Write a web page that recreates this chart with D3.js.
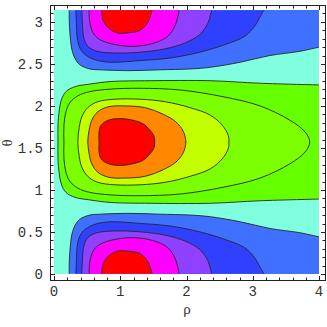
<!DOCTYPE html>
<meta charset="utf-8">
<head>
<title>contour rho theta</title>
<script src="https://cdn.jsdelivr.net/npm/d3@7"></script>
<style>
body { margin: 0; background: #fff; }
.tick-label { font-family: "Liberation Mono", monospace; font-size: 14px; fill: #333; }
.axis-title { font-family: "Liberation Serif", serif; font-size: 15px; fill: #333; }
</style>
</head>
<body>
<svg width="327" height="327"></svg>
<script>
// contour lines, [rho, theta]
// upper lobe (near theta = pi), the lower lobe is its mirror image
var topBlue    = [[0.23,3.14],[0.23,3.02],[0.24,2.87],[0.27,2.67],[0.32,2.56],[0.39,2.49],[0.54,2.44],[0.69,2.43],[1.15,2.42],[1.6,2.43],[2.05,2.44],[2.36,2.46],[2.81,2.52],[3.26,2.6],[3.71,2.65],[4,2.7]];
var topDark    = [[0.33,3.14],[0.34,2.96],[0.35,2.81],[0.39,2.69],[0.47,2.61],[0.62,2.55],[0.85,2.52],[1.3,2.54],[1.75,2.57],[2.2,2.64],[2.58,2.73],[2.88,2.83],[3.03,2.95],[3.11,3.06],[3.17,3.14]];
var topPurple  = [[0.42,3.14],[0.43,2.96],[0.45,2.81],[0.51,2.71],[0.65,2.65],[0.92,2.63],[1.3,2.64],[1.68,2.68],[1.98,2.75],[2.2,2.85],[2.32,2.98],[2.38,3.14]];
var topMagenta = [[0.53,3.14],[0.54,3.0],[0.59,2.87],[0.69,2.79],[0.92,2.73],[1.22,2.71],[1.52,2.75],[1.72,2.83],[1.83,2.96],[1.89,3.14]];
var topRed     = [[0.72,3.14],[0.74,3.02],[0.82,2.93],[0.95,2.87],[1.12,2.87],[1.3,2.9],[1.42,3.0],[1.48,3.14]];

// middle lobe, upper half only (theta >= pi/2), mirrored below
var midGreen  = [[0.06,1.57],[0.06,1.77],[0.08,1.95],[0.11,2.07],[0.18,2.17],[0.32,2.23],[0.54,2.26],[0.85,2.29],[1.45,2.3],[2.36,2.3],[3.11,2.27],[4,2.25]];
var midLime   = [[0.15,1.57],[0.15,1.77],[0.18,1.93],[0.24,2.04],[0.36,2.12],[0.54,2.17],[0.85,2.2],[1.3,2.21],[1.9,2.19],[2.55,2.11],[3.11,2.0],[3.56,1.83],[3.79,1.69],[3.86,1.57]];
var midYellow = [[0.36,1.57],[0.38,1.74],[0.42,1.87],[0.51,1.98],[0.66,2.05],[0.92,2.08],[1.3,2.08],[1.68,2.05],[2.05,1.98],[2.36,1.89],[2.54,1.77],[2.63,1.65],[2.64,1.57]];
var midOrange = [[0.51,1.57],[0.53,1.71],[0.57,1.83],[0.66,1.93],[0.82,1.99],[1.07,2.0],[1.37,1.98],[1.65,1.9],[1.84,1.81],[1.95,1.7],[1.99,1.57]];
var midRed    = [[0.68,1.57],[0.68,1.69],[0.71,1.77],[0.82,1.83],[1.0,1.85],[1.19,1.83],[1.34,1.79],[1.45,1.71],[1.51,1.64],[1.52,1.57]];

var lobeColors = ["#4070ff", "#3040ff", "#9040ff", "#ff00ff", "#ff0000"];
var midColors  = ["#66ff00", "#7cff00", "#c4ff00", "#ff8800", "#ff0000"];
var bgColor = "#80ffdf";

var xTicks = [0, 1, 2, 3, 4];
var yTicks = [0, 0.5, 1, 1.5, 2, 2.5, 3];

var svg = d3.select("svg");
var x = d3.scaleLinear().domain([0, 4]).range([54, 319]);
var y = d3.scaleLinear().domain([0, Math.PI]).range([274, 10]);

var openLine = d3.line().x(function(d){ return x(d[0]); }).y(function(d){ return y(d[1]); }).curve(d3.curveCatmullRom);
var loopLine = d3.line().x(function(d){ return x(d[0]); }).y(function(d){ return y(d[1]); }).curve(d3.curveCatmullRomClosed);

function flip(pts) { return pts.map(function(p){ return [p[0], Math.PI - p[1]]; }); }
function fullMid(half) {
  var low = flip(half).slice(1, -1).reverse();
  return half.concat(low);
}

svg.append("clipPath").attr("id", "plotclip")
  .append("rect").attr("x", x(0)).attr("y", y(Math.PI)).attr("width", x(4) - x(0)).attr("height", y(0) - y(Math.PI));

var g = svg.append("g").attr("clip-path", "url(#plotclip)");
g.append("rect").attr("x", x(0)).attr("y", y(Math.PI)).attr("width", x(4) - x(0)).attr("height", y(0) - y(Math.PI)).attr("fill", bgColor);

var lobes = [topBlue, topDark, topPurple, topMagenta, topRed];

// upper and lower lobes
[false, true].forEach(function(lower) {
  lobes.forEach(function(c, i) {
    var pts = lower ? flip(c) : c;
    var d = openLine(pts);
    if (i == 0) d += "L" + x(4) + "," + y(lower ? 0 : Math.PI);
    d += "Z";
    g.append("path").attr("d", d).attr("fill", lobeColors[i]);
  });
});

// middle lobe
var mids = [midGreen, midLime, midYellow, midOrange, midRed];
var outerMid = midGreen.slice().reverse().concat(flip(midGreen).slice(1));
mids.forEach(function(c, i) {
  if (i == 0) {
    g.append("path").attr("d", openLine(outerMid) + "Z").attr("fill", midColors[i]);
  } else {
    g.append("path").attr("d", loopLine(fullMid(c))).attr("fill", midColors[i]);
  }
});

// contour lines on top
var lines = g.append("g").attr("fill", "none").attr("stroke", "#262626").attr("stroke-width", 0.9);
lobes.forEach(function(c) {
  lines.append("path").attr("d", openLine(c));
  lines.append("path").attr("d", openLine(flip(c)));
});
lines.append("path").attr("d", openLine(outerMid));
mids.slice(1).forEach(function(c) {
  lines.append("path").attr("d", loopLine(fullMid(c)));
});

// frame
var fx0 = 50, fx1 = 325, fy0 = 5, fy1 = 280;
var frame = svg.append("g").attr("stroke", "#222").attr("stroke-width", 1).attr("fill", "none");
frame.append("rect").attr("x", fx0 + 0.5).attr("y", fy0 + 0.5).attr("width", fx1 - fx0).attr("height", fy1 - fy0);

d3.range(0, 4.001, 0.2).forEach(function(v) {
  var major = Math.abs(v - Math.round(v)) < 1e-6;
  var len = major ? 4 : 2.5;
  var px = Math.round(x(v)) + 0.5;
  frame.append("line").attr("x1", px).attr("x2", px).attr("y1", fy1).attr("y2", fy1 - len);
  frame.append("line").attr("x1", px).attr("x2", px).attr("y1", fy0 + 1).attr("y2", fy0 + 1 + len);
});
d3.range(0, 3.1001, 0.1).forEach(function(v) {
  var major = Math.abs(v * 2 - Math.round(v * 2)) < 1e-6;
  var len = major ? 4 : 2.5;
  var py = Math.round(y(v)) + 0.5;
  frame.append("line").attr("x1", fx0 + 1).attr("x2", fx0 + 1 + len).attr("y1", py).attr("y2", py);
  frame.append("line").attr("x1", fx1).attr("x2", fx1 - len).attr("y1", py).attr("y2", py);
});

svg.selectAll(".xl").data(xTicks).enter().append("text")
  .attr("class", "tick-label").attr("x", function(d){ return x(d); }).attr("y", 296)
  .attr("text-anchor", "middle").text(function(d){ return d; });
svg.selectAll(".yl").data(yTicks).enter().append("text")
  .attr("class", "tick-label").attr("x", 43).attr("y", function(d){ return y(d) + 5; })
  .attr("text-anchor", "end").text(function(d){ return d; });

svg.append("text").attr("class", "axis-title").attr("x", 187).attr("y", 314).attr("text-anchor", "middle").text("ρ");
svg.append("text").attr("class", "axis-title").attr("transform", "translate(12,143) rotate(-90)").attr("text-anchor", "middle").text("θ");
</script>
</body>
